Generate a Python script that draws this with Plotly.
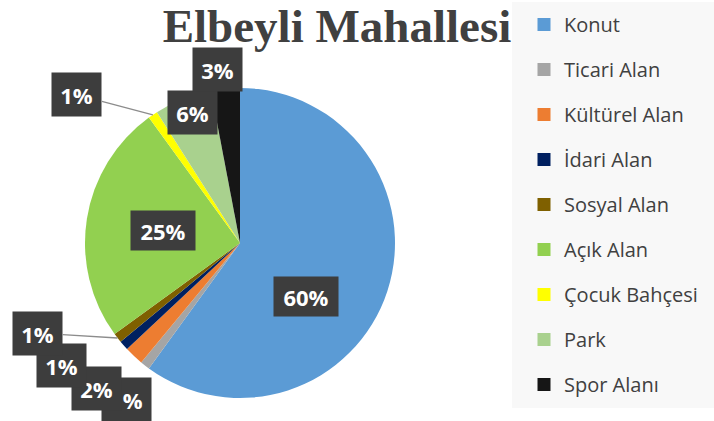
import math
import plotly.graph_objects as go

# data
categories = ["Konut", "Ticari Alan", "Kültürel Alan", "İdari Alan", "Sosyal Alan",
              "Açık Alan", "Çocuk Bahçesi", "Park", "Spor Alanı"]
shares = [60, 1, 2, 1, 1, 25, 1, 6, 3]
colors = ["#5b9bd5", "#a5a5a5", "#ed7d31", "#002060", "#7f6000",
          "#92d050", "#ffff00", "#a9d18e", "#161616"]

W, H = 714, 421
CX, CY, R = 240, 243, 155  # pie centre / radius in px

# label placement: radius fraction, box offset in px, leader line
label_cfg = {
    "Konut": (0.5, -8, 30, False),
    "Ticari Alan": (1.0, -18, 34, False),
    "Kültürel Alan": (1.0, -37, 33, False),
    "İdari Alan": (1.0, -62, 20, False),
    "Sosyal Alan": (1.0, -80, -5, True),
    "Açık Alan": (0.5, 0, 0, False),
    "Çocuk Bahçesi": (1.0, -76, -20, True),
    "Park": (0.9, 4, -1, False),
    "Spor Alanı": (1.13, -6, 1, False),
}


def slice_point(i, frac):
    total = sum(shares)
    mid = (sum(shares[:i]) + shares[i] / 2) / total * 2 * math.pi
    x = CX + math.sin(mid) * R * frac
    y = CY - math.cos(mid) * R * frac
    return x / W, 1 - y / H


fig = go.Figure()
fig.add_trace(go.Pie(
    labels=categories, values=shares, sort=False, direction="clockwise", rotation=0,
    marker=dict(colors=colors, line=dict(width=0)),
    textinfo="none", showlegend=False, hoverinfo="label+percent",
    domain=dict(x=[(CX - R) / W, (CX + R) / W], y=[1 - (CY + R) / H, 1 - (CY - R) / H]),
))

# legend entries
for name, c in zip(categories, colors):
    fig.add_trace(go.Scatter(x=[None], y=[None], mode="markers", name=name,
                             legendgroup=name,
                             marker=dict(symbol="square", size=13, color=c)))

# data labels, drawn in series order (later ones on top)
total = sum(shares)
for i, name in enumerate(categories):
    frac, dx, dy, leader = label_cfg[name]
    x, y = slice_point(i, frac)
    txt = f"{round(shares[i] / total * 100)}%"
    wide = len(txt) > 2
    fig.add_annotation(
        x=x, y=y, xref="paper", yref="paper", text=txt,
        showarrow=True, ax=dx, ay=dy, arrowhead=0, arrowwidth=1.3, standoff=0,
        arrowcolor="#8c8c8c" if leader else "rgba(0,0,0,0)",
        font=dict(family="Open Sans", size=22, color="white", weight="bold"),
        bgcolor="#3d3d3d", width=62 if wide else 47, height=37 if wide else 41,
    )

fig.add_shape(type="rect", xref="paper", yref="paper", layer="below",
              x0=512 / W, x1=1, y0=1 - 408 / H, y1=1 - 2 / H,
              fillcolor="#f8f8f8", line=dict(width=0))

fig.update_layout(
    width=W, height=H, margin=dict(l=0, r=0, t=0, b=0),
    paper_bgcolor="white", plot_bgcolor="white",
    xaxis=dict(visible=False), yaxis=dict(visible=False),
    title=dict(text="<b>Elbeyli Mahallesi</b>", x=337 / W, y=1 - 26 / H,
               xanchor="center", yanchor="middle",
               font=dict(family="Liberation Serif", size=47, color="#404040")),
    legend=dict(x=524 / W, y=1 - 5 / H, xanchor="left", yanchor="top",
                bgcolor="rgba(0,0,0,0)", traceorder="grouped", tracegroupgap=16,
                itemwidth=30,
                font=dict(family="Open Sans", size=20, color="#404040")),
)

fig.write_html("out.html", config={"displayModeBar": False},
               post_script="document.body.style.margin='0';")
